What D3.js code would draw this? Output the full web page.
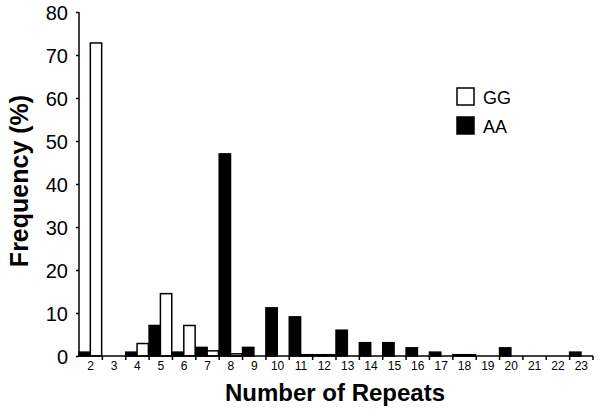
<!DOCTYPE html>
<html lang="en">
<head>
<meta charset="UTF-8" />
<script src="https://d3js.org/d3.v7.min.js"></script>
<style>
  body { margin: 0; background: #fff; }
  text { font-family: Arial, "Liberation Sans", sans-serif; fill: #000; }
</style>
</head>
<body>
<svg width="601" height="410"></svg>
<script>
// repeat counts 2..23
var repeats = ["2","3","4","5","6","7","8","9","10","11","12","13","14","15","16","17","18","19","20","21","22","23"];
// frequency (%) per genotype
var aaValues = [0.9, 0, 0.9, 7.1, 0.9, 2.0, 47.0, 2.0, 11.2, 9.1, 0.3, 6.0, 3.1, 3.1, 1.9, 0.9, 0.3, 0, 1.9, 0, 0, 0.9];
var ggValues = [72.8, 0, 2.9, 14.5, 7.1, 1.2, 0.5, 0, 0, 0.3, 0.3, 0, 0, 0, 0, 0, 0.3, 0, 0, 0, 0, 0];
var yTicks = [0, 10, 20, 30, 40, 50, 60, 70, 80];

var svg = d3.select("svg");

var x = d3.scaleBand().domain(repeats).range([79, 593]).padding(0);
var y = d3.scaleLinear().domain([0, 80]).range([356, 12]);
var sub = d3.scaleBand().domain(["AA", "GG"]).range([0, x.bandwidth() * 0.97]);

var rows = repeats.map(function(r, i) {
  return { r: r, AA: aaValues[i], GG: ggValues[i] };
});

// bars
var groups = svg.append("g").selectAll("g")
  .data(rows).enter().append("g")
  .attr("transform", function(d) { return "translate(" + x(d.r) + ",0)"; });

groups.selectAll("rect")
  .data(function(d) { return ["AA", "GG"].map(function(k) { return { k: k, v: d[k] }; }).filter(function(e) { return e.v > 0; }); })
  .enter().append("rect")
  .attr("x", function(d) { return sub(d.k); })
  .attr("width", sub.bandwidth())
  .attr("y", function(d) { return y(d.v); })
  .attr("height", function(d) { return y(0) - y(d.v); })
  .attr("fill", function(d) { return d.k == "AA" ? "#000" : "#fff"; })
  .attr("stroke", "#000")
  .attr("stroke-width", 1.5);

// y axis
var yAxis = svg.append("g")
  .attr("transform", "translate(79,0)")
  .call(d3.axisLeft(y).tickValues(yTicks).tickSize(3).tickPadding(8));
yAxis.selectAll("text").style("font-size", "20px").attr("dy", "0.36em");
yAxis.select(".domain").attr("stroke-width", 1.5).attr("d", "M0,12V356");
yAxis.selectAll(".tick line").attr("stroke-width", 1.5);

// x axis: labels centred in bands, ticks on band edges
var xAxis = svg.append("g")
  .attr("transform", "translate(0,356)")
  .call(d3.axisBottom(x).tickSize(0).tickPadding(5));
xAxis.selectAll("text").style("font-size", "12px");
xAxis.select(".domain").attr("stroke-width", 1.5).attr("d", "M79,0H593");

xAxis.selectAll(".edge")
  .data(repeats).enter().append("line")
  .attr("class", "edge")
  .attr("x1", function(d) { return x(d) + x.bandwidth(); })
  .attr("x2", function(d) { return x(d) + x.bandwidth(); })
  .attr("y1", 0).attr("y2", 4)
  .attr("stroke", "#000").attr("stroke-width", 1.5);

// axis titles
svg.append("text")
  .attr("transform", "translate(28,181) rotate(-90)")
  .attr("text-anchor", "middle")
  .style("font-size", "25px").style("font-weight", "bold")
  .text("Frequency (%)");

svg.append("text")
  .attr("x", 335).attr("y", 401)
  .attr("text-anchor", "middle")
  .style("font-size", "24px").style("font-weight", "bold")
  .text("Number of Repeats");

// legend
var legend = [{ k: "GG", fill: "#fff" }, { k: "AA", fill: "#000" }];
var lg = svg.append("g").selectAll("g")
  .data(legend).enter().append("g")
  .attr("transform", function(d, i) { return "translate(457," + (88 + i * 29) + ")"; });
lg.append("rect")
  .attr("width", 17).attr("height", 17)
  .attr("fill", function(d) { return d.fill; })
  .attr("stroke", "#000").attr("stroke-width", 1.5);
lg.append("text")
  .attr("x", 26).attr("y", 16)
  .style("font-size", "18px")
  .text(function(d) { return d.k; });
</script>
</body>
</html>
